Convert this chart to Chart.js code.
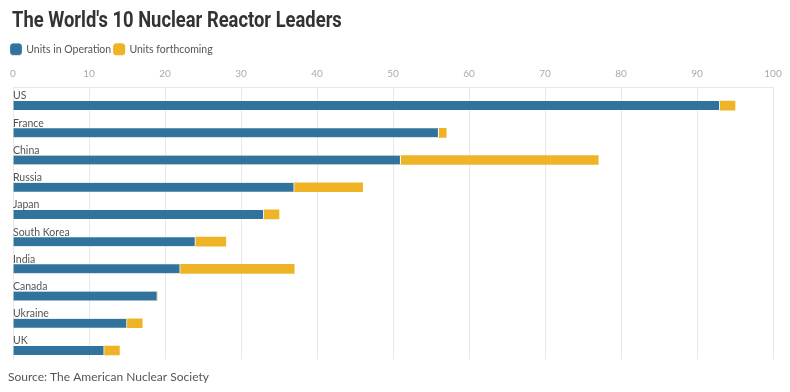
<!DOCTYPE html>
<html>
<head>
<meta charset="utf-8">
<script src="https://cdn.jsdelivr.net/npm/chart.js@4/dist/chart.umd.min.js"></script>
<style>
  body { margin: 0; background: #fff; }
  #wrap { width: 790px; height: 392px; position: relative; }
  #title {
    position: absolute; left: 12px; top: 7px; margin: 0;
    font-family: Roboto, sans-serif; font-weight: bold; font-size: 22px;
    color: #333; white-space: nowrap; transform-origin: 0 0; line-height: 26px;
  }
</style>
</head>
<body>
<div id="wrap">
  <h1 id="title">The World's 10 Nuclear Reactor Leaders</h1>
  <canvas id="myChart"></canvas>
</div>
<script>
const countries = ["US", "France", "China", "Russia", "Japan", "South Korea", "India", "Canada", "Ukraine", "UK"];
const operating = [93, 56, 51, 37, 33, 24, 22, 19, 15, 12];
const forthcoming = [2, 1, 26, 9, 2, 4, 15, 0, 2, 2];
const xTicks = [0, 10, 20, 30, 40, 50, 60, 70, 80, 90, 100];

const BLUE = "#31739c";
const YELLOW = "#efb426";
const textFont = "'Lato', 'Open Sans', sans-serif";

// squeeze the title to the condensed width of the original
const titleEl = document.getElementById("title");
titleEl.style.transform = "scaleX(" + (330 / titleEl.scrollWidth) + ")";

// empty stack in front pushes the real bars into the lower half of each row
const spacer = countries.map(() => 0);

// tighten the gap between legend and the axis labels
const legendGap = {
  id: "legendGap",
  beforeInit(chart) {
    const fit = chart.legend.fit;
    chart.legend.fit = function () {
      fit.call(this);
      this.height -= 5;
    };
  },
};

const ctx = document.getElementById("myChart");

new Chart(ctx, {
  type: "bar",
  data: {
    labels: countries,
    datasets: [
      {
        label: "",
        data: spacer,
        stack: "pad",
        backgroundColor: "rgba(0,0,0,0)",
      },
      {
        label: "Units in Operation",
        data: operating,
        stack: "units",
        backgroundColor: BLUE,
        borderColor: "#fff",
        borderWidth: { top: 0, bottom: 0, left: 0, right: 1 },
        borderSkipped: false,
      },
      {
        label: "Units forthcoming",
        data: forthcoming,
        stack: "units",
        backgroundColor: YELLOW,
        borderWidth: 0,
      },
    ],
  },
  options: {
    indexAxis: "y",
    responsive: true,
    maintainAspectRatio: false,
    animation: false,
    barThickness: 9,
    categoryPercentage: 0.9,
    layout: { padding: { left: 8, right: 17, top: 41, bottom: 4 } },
    scales: {
      x: {
        position: "top",
        stacked: true,
        min: 0,
        max: 100,
        afterBuildTicks: (scale) => {
          scale.ticks = xTicks.map((v) => ({ value: v }));
        },
        ticks: {
          color: "#aaa",
          font: { family: textFont, size: 10 },
          padding: 8,
        },
        grid: { color: "#e8e8e8", drawTicks: false },
        border: { color: "#e8e8e8" },
      },
      y: {
        stacked: true,
        afterFit: (scale) => {
          scale.width = 5;
        },
        grid: { display: false },
        border: { display: false },
        ticks: {
          mirror: true,
          padding: 0,
          labelOffset: -5,
          color: "#555",
          font: { family: textFont, size: 10.5 },
        },
      },
    },
    plugins: {
      title: { display: false },
      legend: {
        align: "start",
        labels: {
          filter: (item) => item.text !== "",
          usePointStyle: true,
          pointStyle: "rectRounded",
          boxWidth: 10,
          boxHeight: 10,
          color: "#555",
          font: { family: textFont, size: 10.5 },
          padding: 3,
        },
      },
      subtitle: {
        display: true,
        position: "bottom",
        align: "start",
        text: "Source: The American Nuclear Society",
        color: "#555",
        font: { family: textFont, size: 12 },
        padding: { top: 10, bottom: 4 },
      },
      tooltip: {
        filter: (item) => item.datasetIndex !== 0,
      },
    },
  },
  plugins: [legendGap],
});
</script>
</body>
</html>
